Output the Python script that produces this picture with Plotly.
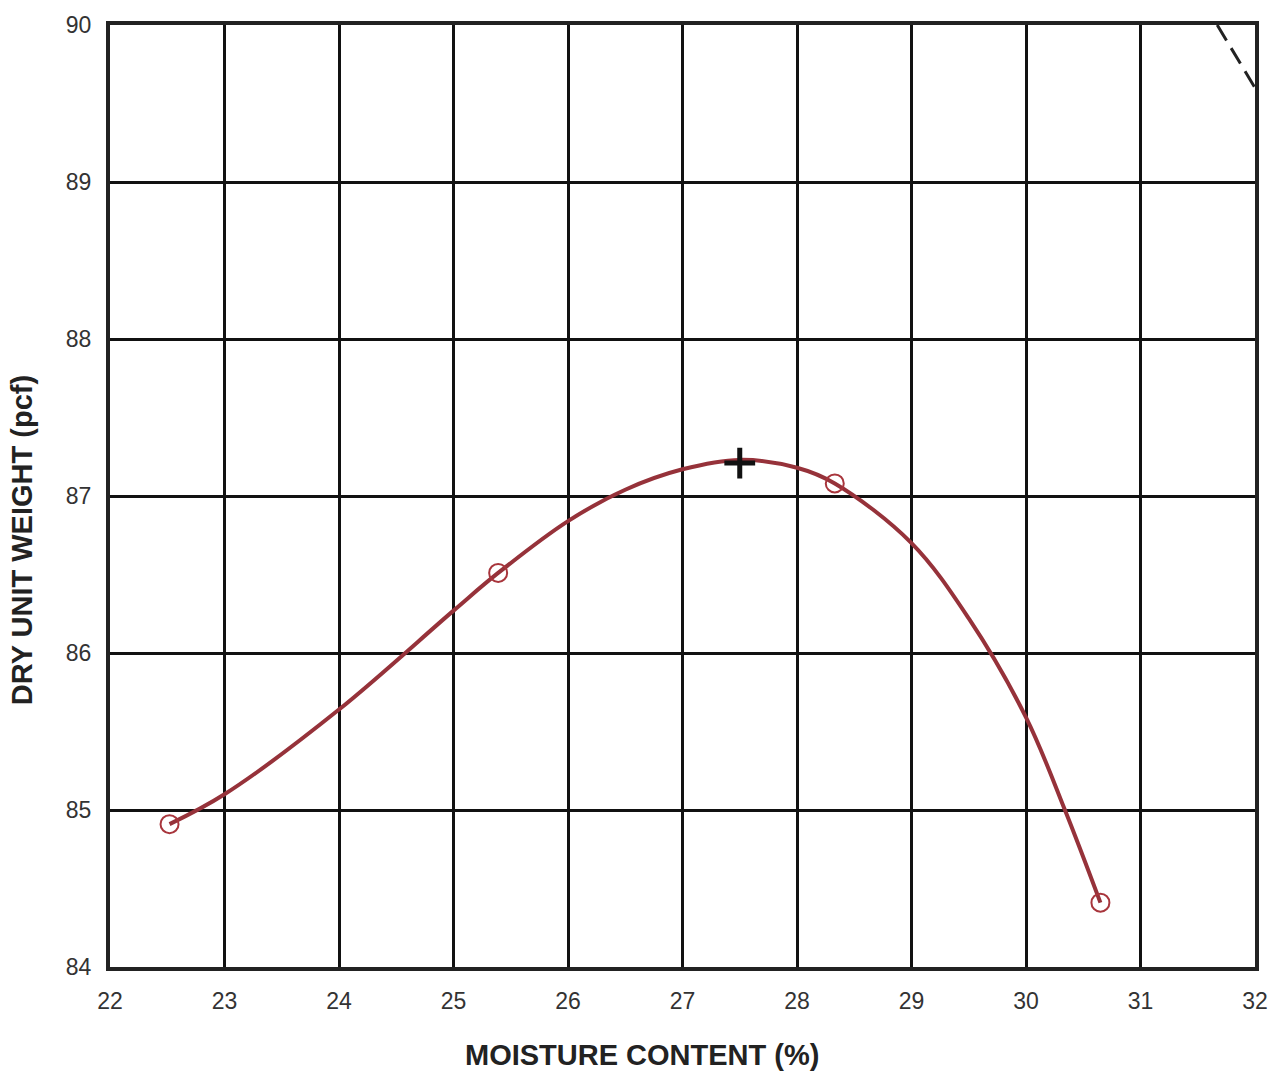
import plotly.graph_objects as go

# Test points (moisture %, dry unit weight pcf)
moisture = [22.52, 25.39, 28.33, 30.65]
dry_weight = [84.91, 86.51, 87.08, 84.41]

# Fitted compaction curve
curve_x = [22.52, 23.0, 24.0, 25.0, 25.39, 26.0, 26.5, 27.0, 27.5, 28.0, 28.33, 29.0, 29.5, 30.0, 30.34, 30.65]
curve_y = [84.91, 85.10, 85.64, 86.27, 86.51, 86.84, 87.04, 87.17, 87.23, 87.18, 87.08, 86.70, 86.22, 85.59, 85.00, 84.41]

# Optimum point
opt_x = [27.5]
opt_y = [87.21]

# Zero air voids line (partial)
zav_x = [31.67, 32.0]
zav_y = [90.0, 89.60]

x_ticks = list(range(22, 33))
y_ticks = list(range(84, 91))

fig = go.Figure()
fig.add_trace(go.Scatter(x=zav_x, y=zav_y, mode="lines",
                         line=dict(color="#222222", width=3, dash="18px,9px"),
                         hoverinfo="skip", showlegend=False))
fig.add_trace(go.Scatter(x=curve_x, y=curve_y, mode="lines",
                         line=dict(color="#96323a", width=4, shape="spline", smoothing=1.0),
                         showlegend=False))
fig.add_trace(go.Scatter(x=moisture, y=dry_weight, mode="markers",
                         marker=dict(symbol="circle-open", size=18, color="#a8353c",
                                     line=dict(width=2, color="#a8353c")),
                         showlegend=False))
fig.add_trace(go.Scatter(x=opt_x, y=opt_y, mode="markers",
                         marker=dict(symbol="cross-thin", size=22, color="#111111",
                                     line=dict(width=5, color="#111111")),
                         showlegend=False))

axis_common = dict(showgrid=True, gridcolor="#111111", gridwidth=2.5,
                   showline=True, linecolor="#222222", linewidth=4, mirror=True,
                   zeroline=False, ticks="",
                   tickfont=dict(family="Liberation Sans, Arial", size=23, color="#333333"))

fig.update_layout(
    width=1283, height=1073,
    margin=dict(l=110, r=28, t=18, b=106),
    paper_bgcolor="white", plot_bgcolor="white",
    xaxis=dict(range=[22, 32], tickvals=x_ticks, ticklabelstandoff=10, **axis_common),
    yaxis=dict(range=[84, 90], tickvals=y_ticks, ticklabelstandoff=10, **axis_common),
    annotations=[
        dict(text="<b>MOISTURE CONTENT (%)</b>", xref="paper", yref="paper",
             x=(642 - 110) / 1145, y=0, yshift=-88, xanchor="center", yanchor="middle",
             showarrow=False,
             font=dict(family="Liberation Sans, Arial", size=29, color="#222222")),
        dict(text="<b>DRY UNIT WEIGHT (pcf)</b>", xref="paper", yref="paper",
             x=0, xshift=-88, y=(967 - 537) / 949, xanchor="center", yanchor="middle",
             textangle=-90, showarrow=False,
             font=dict(family="Liberation Sans, Arial", size=29, color="#222222")),
    ],
)

fig.write_html("out.html")
